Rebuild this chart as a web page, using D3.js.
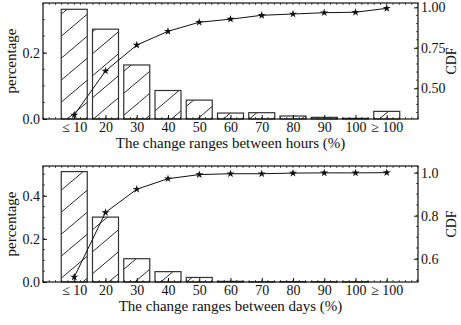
<!DOCTYPE html>
<html>
<head>
<meta charset="utf-8">
<script src="https://cdn.jsdelivr.net/npm/d3@7"></script>
<style>
body{margin:0;background:#fff}
</style>
</head>
<body>
<svg id="chart" width="461" height="325" font-family="Liberation Serif, DejaVu Serif, serif"></svg>
<script>
// categories on the x axis
var categories = ["\u2264 10","20","30","40","50","60","70","80","90","100","\u2265 100"]

// hours panel
var hourPct = [0.331,0.271,0.163,0.086,0.057,0.018,0.019,0.009,0.005,0.002,0.023]
var hourCdf = [0.335,0.607,0.767,0.852,0.908,0.927,0.951,0.959,0.967,0.970,0.994]
var hourLeftTicks = [0.0,0.2]
var hourRightTicks = [0.50,0.75,1.00]

// days panel
var dayPct = [0.512,0.301,0.108,0.048,0.021,0.003,0.001,0.002,0.001,0.001,0.000]
var dayCdf = [0.515,0.815,0.923,0.972,0.991,0.995,0.995,0.998,0.999,0.999,1.000]
var dayLeftTicks = [0.0,0.2,0.4]
var dayRightTicks = [0.6,0.8,1.0]

var serif = "Liberation Serif, DejaVu Serif, serif"
var svg = d3.select("#chart")
var defs = svg.append("defs")
defs.append("pattern")
    .attr("id","hatch")
    .attr("patternUnits","userSpaceOnUse")
    .attr("width",26).attr("height",22)
    .append("path")
    .attr("d","M-2.6,24.2 L28.6,-2.2 M-28.6,24.2 L2.6,-2.2 M23.4,24.2 L54.6,-2.2")
    .attr("stroke","#111").attr("stroke-width",0.9)

var styleAxis = function(a)
{
    a.attr("font-family",serif).attr("font-size",14)
    a.select(".domain").remove()
    a.selectAll(".tick line").attr("stroke","#111")
    a.selectAll(".tick text").attr("fill","#111").attr("font-family",serif)
}

var drawPanel = function(opt)
{
    var left = 43, right = 418
    var top = opt.top, bottom = opt.bottom

    var xScale = d3.scaleLinear().domain([0,12]).range([left,right])
    var yScale = d3.scaleLinear().domain(opt.pctDomain).range([bottom,top])
    var yScale2 = d3.scaleLinear().domain(opt.cdfDomain).range([bottom,top])
    var barW = 26

    var g = svg.append("g")

    // bars
    g.selectAll("rect.bar")
        .data(opt.pct)
        .enter()
        .append("rect")
        .attr("class","bar")
        .attr("x",function(d,i){ return xScale(i+1)-barW/2 })
        .attr("y",function(d){ return yScale(d) })
        .attr("width",barW)
        .attr("height",function(d){ return bottom-yScale(d) })
        .attr("fill","url(#hatch)")
        .attr("stroke","#333")
        .attr("stroke-width",1.2)

    // cdf line
    var line = d3.line()
        .x(function(d,i){ return xScale(i+1) })
        .y(function(d){ return yScale2(d) })
    g.append("path")
        .datum(opt.cdf)
        .attr("d",line)
        .attr("fill","none")
        .attr("stroke","#111")
        .attr("stroke-width",1)
    g.selectAll("path.star")
        .data(opt.cdf)
        .enter()
        .append("path")
        .attr("class","star")
        .attr("d",d3.symbol().type(d3.symbolStar).size(20))
        .attr("transform",function(d,i){ return "translate("+xScale(i+1)+","+yScale2(d)+")" })
        .attr("fill","#111")

    // frame
    g.append("rect")
        .attr("x",left).attr("y",top)
        .attr("width",right-left).attr("height",bottom-top)
        .attr("fill","none").attr("stroke","#111").attr("stroke-width",1.2)

    // minor ticks on top and bottom edges
    var minorX = d3.range(0,12.01,0.2)
    g.selectAll("line.mxb").data(minorX).enter().append("line")
        .attr("x1",function(d){return xScale(d)}).attr("x2",function(d){return xScale(d)})
        .attr("y1",bottom).attr("y2",bottom-2).attr("stroke","#111").attr("stroke-width",0.7)
    g.selectAll("line.mxt").data(minorX).enter().append("line")
        .attr("x1",function(d){return xScale(d)}).attr("x2",function(d){return xScale(d)})
        .attr("y1",top).attr("y2",top+2).attr("stroke","#111").attr("stroke-width",0.7)

    // x axis
    var xAxis = d3.axisBottom(xScale)
        .tickValues(d3.range(1,12))
        .tickFormat(function(d){ return categories[d-1] })
        .tickSizeInner(-4).tickSizeOuter(0).tickPadding(3)
    var xa = g.append("g").attr("transform","translate(0,"+bottom+")").call(xAxis)
    styleAxis(xa)

    // left axis
    var yAxis = d3.axisLeft(yScale)
        .tickValues(opt.leftTicks)
        .tickFormat(d3.format(".1f"))
        .tickSizeInner(-4).tickSizeOuter(0).tickPadding(3)
    var ya = g.append("g").attr("transform","translate("+left+",0)").call(yAxis)
    styleAxis(ya)
    var minorL = d3.range(0,opt.pctDomain[1],opt.leftMinor)
    g.selectAll("line.ml").data(minorL).enter().append("line")
        .attr("x1",left).attr("x2",left+2)
        .attr("y1",function(d){return yScale(d)}).attr("y2",function(d){return yScale(d)})
        .attr("stroke","#111").attr("stroke-width",0.7)

    // right axis
    var yAxis1 = d3.axisRight(yScale2)
        .tickValues(opt.rightTicks)
        .tickFormat(d3.format(opt.rightFmt))
        .tickSizeInner(-4).tickSizeOuter(0).tickPadding(3)
    var ya2 = g.append("g").attr("transform","translate("+right+",0)").call(yAxis1)
    styleAxis(ya2)
    var minorR = d3.range(opt.cdfDomain[0],opt.cdfDomain[1],0.001)
        .filter(function(d){ return Math.abs(Math.round(d/opt.rightMinor)*opt.rightMinor-d)<0.0004 })
    g.selectAll("line.mr").data(minorR).enter().append("line")
        .attr("x1",right).attr("x2",right-2)
        .attr("y1",function(d){return yScale2(d)}).attr("y2",function(d){return yScale2(d)})
        .attr("stroke","#111").attr("stroke-width",0.7)

    // labels
    g.append("text")
        .text(opt.xTitle)
        .attr("text-anchor","middle")
        .attr("x",(left+right)/2)
        .attr("y",bottom+29)
        .attr("font-size",15)
        .attr("font-family",serif)
        .attr("fill","#111")
    g.append("g")
        .attr("transform","translate(16,"+((top+bottom)/2)+")")
        .append("text")
        .text("percentage")
        .attr("text-anchor","middle")
        .attr("transform","rotate(-90)")
        .attr("font-size",15)
        .attr("font-family",serif)
        .attr("fill","#111")
    g.append("g")
        .attr("transform","translate(456,"+((top+bottom)/2)+")")
        .append("text")
        .text("CDF")
        .attr("text-anchor","middle")
        .attr("transform","rotate(-90)")
        .attr("font-size",14)
        .attr("font-family",serif)
        .attr("fill","#111")
}

drawPanel({top:3,bottom:119,pct:hourPct,cdf:hourCdf,
    pctDomain:[0,0.35],cdfDomain:[0.31,1.027],
    leftTicks:hourLeftTicks,rightTicks:hourRightTicks,rightFmt:".2f",
    leftMinor:0.05,rightMinor:0.05,
    xTitle:"The change ranges between hours (%)"})

drawPanel({top:166,bottom:282,pct:dayPct,cdf:dayCdf,
    pctDomain:[0,0.538],cdfDomain:[0.492,1.031],
    leftTicks:dayLeftTicks,rightTicks:dayRightTicks,rightFmt:".1f",
    leftMinor:0.05,rightMinor:0.05,
    xTitle:"The change ranges between days (%)"})
</script>
</body>
</html>
